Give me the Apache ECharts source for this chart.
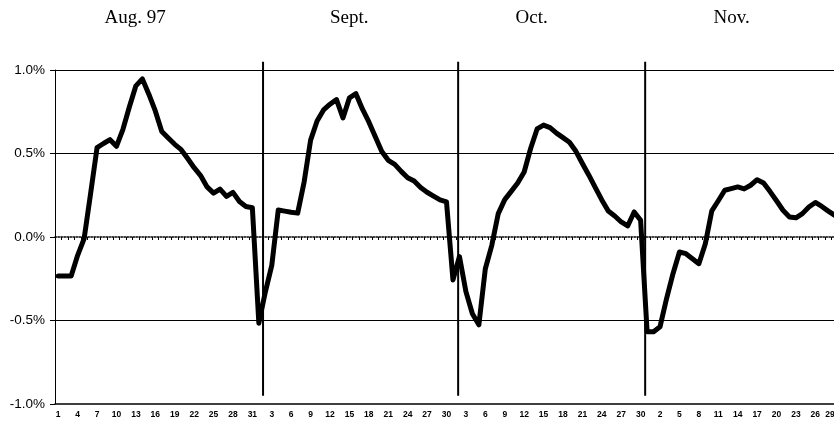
<!DOCTYPE html>
<html>
<head>
<meta charset="utf-8">
<script src="https://cdn.jsdelivr.net/npm/echarts@6.0.0/dist/echarts.min.js"></script>
<style>
html,body{margin:0;padding:0;background:#fff;}
#chart{width:834px;height:426px;}
</style>
</head>
<body>
<div id="chart"></div>
<script>
// ---- data (values in %) ----
const monthNames = ['Aug. 97', 'Sept.', 'Oct.', 'Nov.'];
const monthLengths = [31, 30, 31, 29];   // Aug 1 .. Nov 29
const augValues = [-0.233,-0.233,-0.233,-0.11,-0.01,0.26,0.535,0.56,0.583,0.543,0.645,0.78,0.905,0.947,0.855,0.755,0.632,0.593,0.555,0.523,0.47,0.415,0.368,0.30,0.263,0.287,0.243,0.267,0.213,0.183,0.175];
const septValues = [-0.516,-0.33,-0.17,0.162,0.155,0.148,0.143,0.33,0.58,0.695,0.761,0.795,0.823,0.713,0.833,0.858,0.767,0.689,0.60,0.512,0.459,0.435,0.393,0.355,0.335,0.296,0.268,0.245,0.222,0.21];
const octValues = [-0.257,-0.117,-0.327,-0.46,-0.526,-0.19,-0.05,0.14,0.224,0.273,0.323,0.389,0.53,0.647,0.67,0.655,0.622,0.595,0.567,0.513,0.44,0.37,0.296,0.222,0.156,0.126,0.09,0.066,0.15,0.10,-0.567];
const novValues = [-0.567,-0.537,-0.37,-0.22,-0.09,-0.10,-0.13,-0.16,-0.04,0.157,0.217,0.28,0.29,0.30,0.288,0.31,0.343,0.323,0.272,0.217,0.16,0.12,0.115,0.14,0.18,0.207,0.183,0.155,0.13];
const yTicks = [-1.0, -0.5, 0.0, 0.5, 1.0];
const gridValues = [1.0, 0.5, -0.5];
// month dividers, in day units from the left edge of the plot
const dividerPositions = [32.15, 62.3, 91.2];
const dividerTop = 1.05, dividerBottom = -0.95;

const dayLabels = [];
monthLengths.forEach(n => { for (let d = 1; d <= n; d++) dayLabels.push(String(d)); });
const values = augValues.concat(septValues, octValues, novValues);

const chart = echarts.init(document.getElementById('chart'), null, {renderer: 'canvas'});

const series = [
  {
    type: 'line', xAxisIndex: 0, yAxisIndex: 0, data: [], silent: true,
    markLine: {
      silent: true, symbol: ['none', 'none'], label: {show: false},
      lineStyle: {color: '#000', width: 1, type: 'solid'},
      animation: false,
      data: gridValues.map(v => ({yAxis: v}))
    }
  }
];
dividerPositions.forEach(p => {
  series.push({
    type: 'line', xAxisIndex: 2, yAxisIndex: 0, silent: true, clip: false,
    symbol: 'none', lineStyle: {color: '#000', width: 2},
    data: [[p, dividerTop], [p, dividerBottom]], z: 3
  });
});
series.push({
  type: 'line', xAxisIndex: 0, yAxisIndex: 0, data: values,
  symbol: 'none', showSymbol: false, silent: true,
  lineStyle: {color: '#000', width: 5, join: 'round', cap: 'round'},
  z: 4
});

chart.setOption({
  animation: false,
  backgroundColor: '#fff',
  grid: {left: 55, right: -4, top: 70, bottom: 22, containLabel: false, outerBoundsMode: 'none'},
  xAxis: [
    {
      type: 'category', data: dayLabels, position: 'bottom', boundaryGap: true,
      axisLine: {show: true, onZero: false, lineStyle: {color: '#000', width: 1.5}},
      axisTick: {show: false},
      axisLabel: {
        show: true, interval: 2, margin: 6, color: '#000',
        fontFamily: 'Liberation Sans', fontWeight: 'bold', fontSize: 8.5,
        hideOverlap: false, alignMaxLabel: 'right'
      },
      splitLine: {show: false}
    },
    {
      type: 'category', data: dayLabels, position: 'bottom', boundaryGap: true,
      axisLine: {show: true, onZero: true, onZeroAxisIndex: 0, lineStyle: {color: '#000', width: 1.5, type: 'dotted'}},
      axisTick: {show: true, interval: 0, length: 3, inside: false, lineStyle: {color: '#000', width: 1}},
      axisLabel: {show: false},
      splitLine: {show: false}
    },
    {
      type: 'value', min: 0, max: dayLabels.length, show: false,
      axisLine: {onZero: false}, splitLine: {show: false}
    }
  ],
  yAxis: {
    type: 'value', min: yTicks[0], max: yTicks[yTicks.length - 1], interval: 0.5,
    axisLine: {show: true, onZero: false, lineStyle: {color: '#000', width: 1}},
    axisTick: {show: true, length: 5, lineStyle: {color: '#000'}},
    axisLabel: {
      margin: 10, color: '#000', fontFamily: 'Liberation Sans', fontSize: 13.5,
      formatter: v => v.toFixed(1) + '%'
    },
    splitLine: {show: false}
  },
  graphic: [
    {type: 'text', left: 138.5 - 34, top: 9, style: {text: monthNames[0], font: '19px "Liberation Serif"', fill: '#000'}},
    {type: 'text', left: 349 - 19, top: 9, style: {text: monthNames[1], font: '19px "Liberation Serif"', fill: '#000'}},
    {type: 'text', left: 532.5 - 17, top: 9, style: {text: monthNames[2], font: '19px "Liberation Serif"', fill: '#000'}},
    {type: 'text', left: 732.5 - 19, top: 9, style: {text: monthNames[3], font: '19px "Liberation Serif"', fill: '#000'}}
  ],
  series: series
});
</script>
</body>
</html>
